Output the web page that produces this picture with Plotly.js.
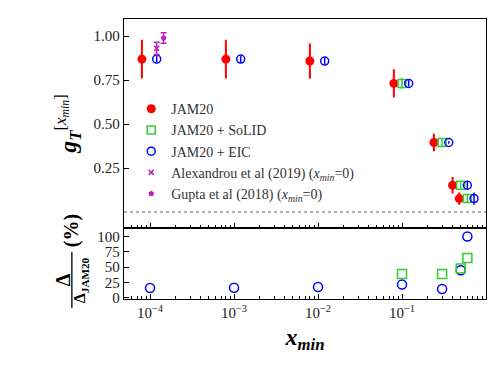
<!DOCTYPE html>
<html>
<head>
<meta charset="utf-8">
<script src="https://cdn.plot.ly/plotly-3.0.1.min.js"></script>
<style>body{margin:0;background:#fff}#plot{width:498px;height:374px}</style>
</head>
<body>
<div id="plot"></div>
<script>
// x_min values and their displayed (shifted) positions in the top panel
const xmin = [1e-4, 1e-3, 1e-2, 0.1, 0.3, 0.5, 0.6];
const xRed = [8e-5, 8e-4, 8e-3, 0.08, 0.24, 0.4, 0.48];
const xBlue = [1.2e-4, 1.2e-3, 1.2e-2, 0.12, 0.36, 0.6, 0.72];
const xGreen = [0.1, 0.3, 0.5, 0.6];

// g_T values
const gJam = [0.869, 0.869, 0.858, 0.731, 0.395, 0.152, 0.076];
const errJam = [0.11, 0.11, 0.10, 0.08, 0.05, 0.047, 0.035];
const gEic = [0.869, 0.869, 0.858, 0.731, 0.395, 0.152, 0.076];
const errEic = [0.018, 0.018, 0.0175, 0.018, 0.007, 0.021, 0.035];
const gSolid = [0.731, 0.395, 0.152, 0.076];
const errSolid = [0.031, 0.02, 0.023, 0.023];

// lattice
const xAlex = [1.2e-4], gAlex = [0.93], errAlex = [0.035];
const xGupta = [1.45e-4], gGupta = [0.989], errGupta = [0.03];

// ratio Delta / Delta_JAM20 (%)
const ratioEic = [16, 16.5, 17.5, 21.7, 14.4, 45, 100];
const ratioSolid = [38.8, 38.8, 48, 65];

const tickVals = [1e-4, 1e-3, 1e-2, 1e-1];
const tickText = ["10<sup>−4</sup>", "10<sup>−3</sup>", "10<sup>−2</sup>", "10<sup>−1</sup>"];

// minor log ticks 2..9 in each decade
const minorVals = [];
[1e-5, 1e-4, 1e-3, 1e-2, 1e-1].forEach(d => {
  for (let k = 2; k <= 9; k++) minorVals.push(k * d);
});

const serif = "Liberation Serif, DejaVu Serif, serif";
const red = "#ff0000", green = "#33cc33", blue = "#0000ff", mag = "#c020c0";

const traces = [
  { x: xRed, y: gJam, name: "JAM20", mode: "markers", type: "scatter",
    marker: { color: red, size: 9, symbol: "circle" },
    error_y: { type: "data", array: errJam, color: red, thickness: 2, width: 0 } },
  { x: xGreen, y: gSolid, name: "JAM20 + SoLID", mode: "markers", type: "scatter",
    marker: { color: green, size: 8, symbol: "square-open", line: { width: 1.5 } },
    error_y: { type: "data", array: errSolid, color: green, thickness: 1.5, width: 0 } },
  { x: xBlue, y: gEic, name: "JAM20 + EIC", mode: "markers", type: "scatter",
    marker: { color: blue, size: 8, symbol: "circle-open", line: { width: 1.5 } },
    error_y: { type: "data", array: errEic, color: blue, thickness: 1.5, width: 0 } },
  { x: xAlex, y: gAlex, name: "Alexandrou et al (2019) (<i>x<sub>min</sub></i>=0)", mode: "markers", type: "scatter",
    marker: { color: mag, size: 5, symbol: "x-thin-open", line: { width: 1.5, color: mag } },
    error_y: { type: "data", array: errAlex, color: mag, thickness: 1.5, width: 3 } },
  { x: xGupta, y: gGupta, name: "Gupta et al (2018) (<i>x<sub>min</sub></i>=0)", mode: "markers", type: "scatter",
    marker: { color: mag, size: 6, symbol: "pentagon" },
    error_y: { type: "data", array: errGupta, color: mag, thickness: 1.5, width: 3 } },
  { x: xmin, y: ratioEic, xaxis: "x2", yaxis: "y2", mode: "markers", type: "scatter", showlegend: false,
    marker: { color: blue, size: 9, symbol: "circle-open", line: { width: 1.5 } } },
  { x: xGreen, y: ratioSolid, xaxis: "x2", yaxis: "y2", mode: "markers", type: "scatter", showlegend: false,
    marker: { color: green, size: 9, symbol: "square-open", line: { width: 1.5 } } }
];

const axisCommon = {
  showline: true, linecolor: "#000", linewidth: 1.3, mirror: true,
  ticks: "inside", ticklen: 5, tickcolor: "#000", showgrid: false, zeroline: false,
  tickfont: { family: serif, size: 15, color: "#222" }
};

const layout = {
  width: 498, height: 374,
  margin: { l: 124, r: 12, t: 19, b: 75 },
  paper_bgcolor: "#fff", plot_bgcolor: "#fff",
  font: { family: serif },
  showlegend: true,
  legend: { x: 0.02, y: 0.735, xanchor: "left", yanchor: "top", bgcolor: "rgba(0,0,0,0)",
    font: { family: serif, size: 14, color: "#333" }, tracegroupgap: 0, itemwidth: 30 },
  xaxis: Object.assign({}, axisCommon, {
    type: "log", range: [-4.31, 0], domain: [0, 1], anchor: "y",
    tickvals: tickVals, ticktext: tickText, showticklabels: false, matches: "x2",
    minor: { ticks: "inside", ticklen: 3, tickcolor: "#000", tickvals: minorVals }
  }),
  yaxis: Object.assign({}, axisCommon, {
    range: [-0.091, 1.097], domain: [0.2536, 1], anchor: "x",
    tickvals: [0.25, 0.5, 0.75, 1.0], ticktext: ["0.25", "0.50", "0.75", "1.00"],
    title: { text: "<b><i>g</i><sub><i>T</i></sub></b><sup>[<i>x<sub>min</sub></i>]</sup>",
      font: { family: serif, size: 24, color: "#000" }, standoff: 10 }
  }),
  xaxis2: Object.assign({}, axisCommon, {
    type: "log", range: [-4.31, 0], domain: [0, 1], anchor: "y2",
    tickvals: tickVals, ticktext: tickText,
    minor: { ticks: "inside", ticklen: 3, tickcolor: "#000", tickvals: minorVals },
    title: { text: "<b><i>x<sub>min</sub></i></b>", font: { family: serif, size: 24, color: "#000" }, standoff: 8 }
  }),
  yaxis2: Object.assign({}, axisCommon, {
    range: [-2, 114], domain: [0, 0.2536], anchor: "x2",
    tickvals: [0, 25, 50, 75, 100], ticktext: ["0", "25", "50", "75", "100"]
  }),
  shapes: [
    { type: "line", xref: "x domain", yref: "y", x0: 0, x1: 1, y0: 0, y1: 0,
      line: { color: "#333", width: 0.8, dash: "dot" } },
    { type: "line", xref: "paper", yref: "paper", x0: -0.144, x1: -0.144, y0: -0.032, y1: 0.168,
      line: { color: "#000", width: 1.3 }, layer: "above" }
  ],
  annotations: [
    { xref: "paper", yref: "paper", x: -0.168, y: 0.068, xanchor: "center", yanchor: "middle",
      text: "<b>Δ</b>", textangle: -90,
      showarrow: false, font: { family: serif, size: 20, color: "#000" } },
    { xref: "paper", yref: "paper", x: -0.118, y: 0.068, xanchor: "center", yanchor: "middle",
      text: "<b>Δ<sub>JAM20</sub></b>", textangle: -90,
      showarrow: false, font: { family: serif, size: 16, color: "#000" } },
    { xref: "paper", yref: "paper", x: -0.144, y: 0.245, xanchor: "center", yanchor: "middle",
      text: "<b>(%)</b>", textangle: -90,
      showarrow: false, font: { family: serif, size: 20, color: "#000" } }
  ]
};

Plotly.newPlot("plot", traces, layout, { displayModeBar: false, staticPlot: true });
</script>
</body>
</html>
